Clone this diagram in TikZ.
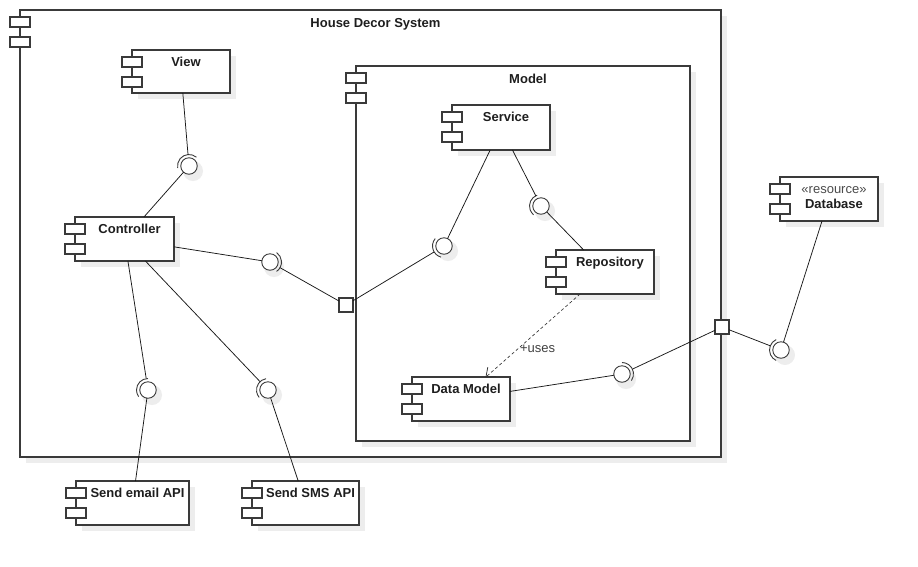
\documentclass[tikz,border=0pt]{standalone}
\usepackage{fontspec}
\setmainfont{Liberation Sans}
\usetikzlibrary{calc}
\definecolor{umlline}{HTML}{3A3A3A}
\definecolor{umlshade}{HTML}{EDEDED}
\definecolor{umltext}{HTML}{1E1E1E}

\begin{document}
\begin{tikzpicture}[x=1pt, y=1pt,
  compbody/.style={draw=umlline, fill=white, line width=1.1pt, inner sep=0pt, outer sep=0pt},
  compicon/.style={draw=umlline, fill=white, line width=1.1pt},
  comptext/.style={font=\bfseries\fontsize{13}{15}\selectfont, text=umltext, inner sep=0pt, anchor=base},
  stereotext/.style={font=\fontsize{13}{15}\selectfont, text=umltext!80, inner sep=0pt, anchor=base},
  dropshade/.style={fill=umlshade},
  ball/.style={circle, draw=umlline, fill=white, line width=0.9pt, minimum size=16.5pt, inner sep=0pt, outer sep=0pt},
  sock/.style={circle, minimum size=23pt, inner sep=0pt, outer sep=0pt},
  sockarc/.style={draw=umlline, line width=0.9pt},
  portbox/.style={draw=umlline, fill=white, line width=1.1pt, minimum size=14pt, inner sep=0pt, outer sep=0pt},
  wire/.style={draw=black!90, line width=0.75pt},
  usesline/.style={draw=black!80, line width=0.65pt, dash pattern=on 3pt off 2.5pt},
  usestip/.style={draw=black!80, line width=0.75pt, line join=miter},
]
\useasboundingbox (0,0) rectangle (918,-566);

% components (pixel box: left/top/right/bottom, label baseline below top)
\foreach \nm/\xa/\ya/\xb/\yb/\by/\txt in {%
  house/20/10/721/457/17/House Decor System,
  model/356/66/690/441/17/Model,
  view/132/50/230/93/16.5/View,
  ctrl/75/217/174/261/16.5/Controller,
  service/452/105/550/150/16.5/Service,
  repo/556/250/654/294/16.5/Repository,
  dmodel/412/377/510/421/16.5/Data Model,
  db/780/177/878/221/31/Database,
  email/76/481/189/525/16.5/Send email API,
  sms/252/481/359/525/16.5/Send SMS API%
} {
  \fill[dropshade] (\xa+6,-\ya-6) rectangle (\xb+6,-\yb-6);
  \node[compbody, minimum width={(\xb-\xa)*1pt}, minimum height={(\yb-\ya)*1pt}]
    (\nm) at ({(\xa+\xb)/2},{-(\ya+\yb)/2}) {};
  \draw[compicon] ([shift={(-10,-7)}]\nm.north west) rectangle ++(20,-10);
  \draw[compicon] ([shift={(-10,-27)}]\nm.north west) rectangle ++(20,-10);
  \node[comptext] (\nm-lbl) at ([shift={(5,-\by)}]\nm.north) {\txt};
}
\node[stereotext] (db-st) at ([shift={(5,-16)}]db.north) {«resource»};

% provided/required interfaces (ball + socket arc)
\foreach \nm/\x/\y/\sa/\ea in {%
  i1/189/166/50/190,
  i2/270/262/-55/55,
  i3/444/246/140/255,
  i4/541/206/110/230,
  i5/622/374/-35/90,
  i6/781/350/115/245,
  i7/148/390/90/215,
  i8/268/390/100/220%
} {
  \fill[dropshade] (\x+4,-\y-5) circle (10);
  \node[sock] (\nm-s) at (\x,-\y) {};
  \node[ball] (\nm) at (\x,-\y) {};
  \draw[sockarc] (\nm-s.\sa) arc[start angle=\sa, end angle=\ea, radius=11.5];
}

% ports
\node[portbox] (p1) at (346,-305) {};
\node[portbox] (p2) at (722,-327) {};

% connectors
\draw[wire] (view) -- (i1-s);
\draw[wire] (ctrl) -- (i1);
\draw[wire] (ctrl) -- (i2);
\draw[wire] (p1) -- (i2-s);
\draw[wire] (p1) -- (i3-s);
\draw[wire] (service) -- (i3);
\draw[wire] (service) -- (i4-s);
\draw[wire] (repo) -- (i4);
\draw[wire] (dmodel) -- (i5);
\draw[wire] (p2) -- (i5-s);
\draw[wire] (p2) -- (i6-s);
\draw[wire] (db) -- (i6);
\draw[wire] (ctrl) -- (i7-s);
\draw[wire] (email) -- (i7);
\draw[wire] (ctrl) -- (i8-s);
\draw[wire] (sms) -- (i8);
% dependency: dashed line, open head
\draw[usesline] (repo) -- node[pos=0.64, anchor=west, inner sep=0pt, yshift=-2pt,
  font=\fontsize{13}{15}\selectfont, text=umltext!85] (uses) {+uses}
  coordinate[pos=0.8] (uses-a) coordinate[pos=1] (uses-b) (dmodel);
\draw[usestip] ($(uses-b)!10pt!38:(uses-a)$) -- (uses-b) -- ($(uses-b)!10pt!-38:(uses-a)$);
\end{tikzpicture}
\end{document}
